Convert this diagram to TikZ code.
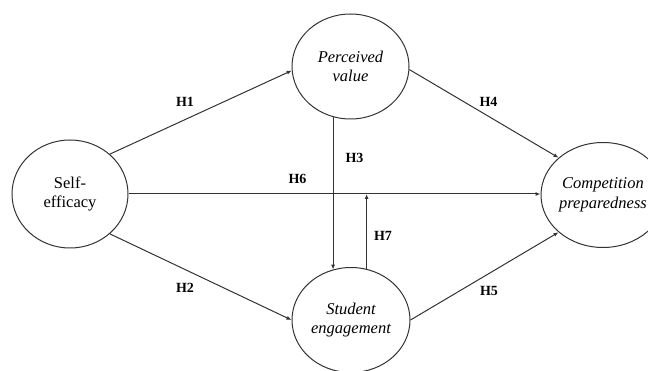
\documentclass[tikz,border=0pt]{standalone}
\usepackage{fontspec}
\setmainfont{Liberation Serif}
\usetikzlibrary{arrows.meta}
\usetikzlibrary{shapes.geometric}

\begin{document}
\begin{tikzpicture}[x=1pt, y=-1pt,
        construct/.style={draw=black!80, line width=1pt, ellipse, inner sep=0pt, align=center,
            font=\fontsize{16.5}{19.5}\selectfont},
        hpath/.style={draw=black!80, line width=1pt, -{Latex[length=5pt,width=4pt]}},
        hyp/.style={font=\fontsize{14}{16}\selectfont\bfseries}]
        \useasboundingbox (0,0) rectangle (648,371);
        \clip (0,0) rectangle (648,371);

        % constructs
        \node[construct, minimum width=116pt, minimum height=108pt] (self) at (70,194) {Self-\\efficacy};
        \node[construct, minimum width=117pt, minimum height=105pt] (pv) at (350.5,66.5) {\itshape Perceived\\\itshape value};
        \node[construct, minimum width=118pt, minimum height=105pt] (sg) at (351,320) {\itshape Student\\\itshape engagement};
        \node[construct, minimum width=120pt, minimum height=105pt] (cp) at (603,195) {\itshape Competition\\\itshape preparedness};

        % hypotheses
        \draw[hpath] (self.45) -- (pv.184);
        \draw[hpath] (self.-45) -- (sg.west);
        \draw[hpath] (self.east) -- (self.east -| cp.west);
        \draw[hpath] (pv.251) -- (pv.251 |- sg.110);
        \draw[hpath] (pv.-3) -- (cp.140);
        \draw[hpath] (sg.east) -- (cp.220);
        \draw[hpath] (sg.73) -- (sg.73 |- self.east);

        \foreach \lab/\x/\y in {H1/185/101.5, H2/185/288, H3/354.5/157.7, H4/488.5/102,
                                H5/489/291, H6/297.5/178.5, H7/383/236} {
            \node[hyp] (\lab) at (\x,\y) {\lab};
        }
    \end{tikzpicture}
\end{document}
